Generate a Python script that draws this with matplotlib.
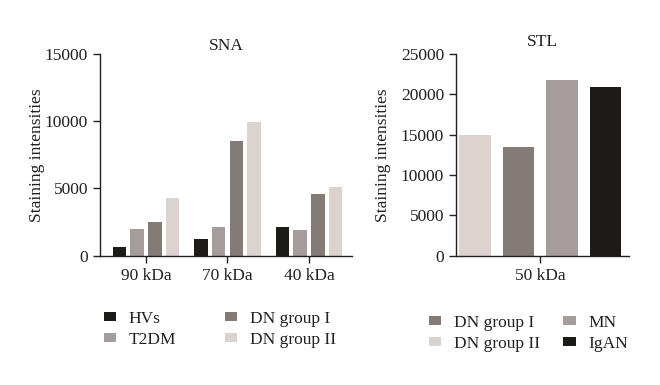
import matplotlib
matplotlib.use("Agg")
import matplotlib.pyplot as plt
import numpy as np
from matplotlib.patches import Patch

plt.rcParams['font.family'] = ['Liberation Serif', 'DejaVu Serif']

# ---- data ----
sna_categories = ["90 kDa", "70 kDa", "40 kDa"]
sna_groups = ["HVs", "T2DM", "DN group I", "DN group II"]
sna_hvs = [620, 1220, 2150]
sna_t2dm = [1950, 2150, 1880]
sna_dn1 = [2480, 8550, 4600]
sna_dn2 = [4300, 9920, 5100]
sna_colors = ["#1c1b18", "#a59d9b", "#857b76", "#dcd3cf"]

stl_category = ["50 kDa"]
stl_groups = ["DN group II", "DN group I", "MN", "IgAN"]
stl_values = [15000, 13500, 21750, 20850]
stl_colors = ["#dcd3cf", "#857b76", "#a59d9b", "#1c1b18"]
stl_legend_order = ["DN group I", "DN group II", "MN", "IgAN"]

fig = plt.figure(figsize=(6.6, 3.85), dpi=100)
axL = fig.add_axes([100/660, 1-255.7/385, 252/660, 201.7/385])
axR = fig.add_axes([456/660, 1-255.7/385, 173/660, 201.7/385])

dark = "#231f20"
fs = 12.5

def style(ax):
    for s in ["top", "right"]:
        ax.spines[s].set_visible(False)
    for s in ["left", "bottom"]:
        ax.spines[s].set_color(dark)
        ax.spines[s].set_linewidth(1.0)
    ax.tick_params(axis="both", colors=dark, labelcolor="#231f20",
                   labelsize=fs, length=5, width=1.0, direction="out")

# Left: SNA
x = np.arange(len(sna_categories))
step = 0.217
width = 0.166
series = [sna_hvs, sna_t2dm, sna_dn1, sna_dn2]
for i, (vals, c) in enumerate(zip(series, sna_colors)):
    axL.bar(x + (i - 1.5) * step, vals, width=width, color=c, edgecolor="none")
axL.set_xlim(-0.564, 2.528)
axL.set_ylim(0, 15000)
axL.set_yticks([0, 5000, 10000, 15000])
axL.set_xticks(x)
axL.set_xticklabels(sna_categories)
style(axL)
axL.set_title("SNA", fontsize=fs, color=dark, pad=-3)
axL.set_ylabel("Staining intensities", fontsize=fs, color=dark, labelpad=0)

# Right: STL
xr = np.arange(len(stl_category))
for i, (v, c) in enumerate(zip(stl_values, stl_colors)):
    axR.bar(xr + (i - 1.5), [v], width=0.724, color=c, edgecolor="none")
axR.set_xlim(-1.94, 2.04)
axR.set_ylim(0, 25000)
axR.set_yticks([0, 5000, 10000, 15000, 20000, 25000])
axR.set_xticks(xr)
axR.set_xticklabels(stl_category)
style(axR)
axR.set_title("STL", fontsize=fs, color=dark, pad=6)
axR.set_ylabel("Staining intensities", fontsize=fs, color=dark, labelpad=7)

# Legends
hL = [Patch(facecolor=c, edgecolor="none", label=g) for g, c in zip(sna_groups, sna_colors)]
fig.legend(handles=hL, ncol=2, loc="upper left", bbox_to_anchor=(88/660, 1-295/385),
           frameon=False, fontsize=fs, handlelength=0.7, handleheight=0.4,
           handletextpad=0.75, columnspacing=2.8, labelspacing=0.3, labelcolor=dark)

cmap = dict(zip(stl_groups, stl_colors))
hR = [Patch(facecolor=cmap[g], edgecolor="none", label=g) for g in stl_legend_order]
fig.legend(handles=hR, ncol=2, loc="upper left", bbox_to_anchor=(413/660, 1-299/385),
           frameon=False, fontsize=fs, handlelength=0.7, handleheight=0.4,
           handletextpad=0.75, columnspacing=1.35, labelspacing=0.3, labelcolor=dark)

fig.savefig("out.png", dpi=100, facecolor="white")
